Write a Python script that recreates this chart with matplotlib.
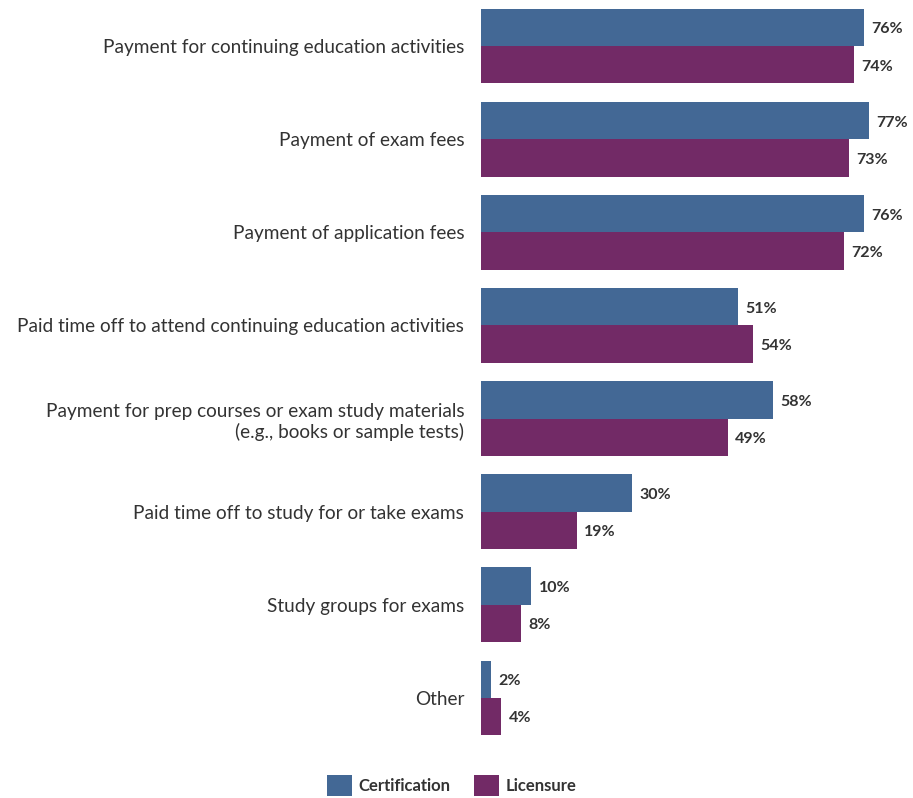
import matplotlib.pyplot as plt
from matplotlib.patches import Patch

plt.rcParams['font.family'] = ['Lato', 'DejaVu Sans']

categories = [
    "Payment for continuing education activities",
    "Payment of exam fees",
    "Payment of application fees",
    "Paid time off to attend continuing education activities",
    "Payment for prep courses or exam study materials\n(e.g., books or sample tests)",
    "Paid time off to study for or take exams",
    "Study groups for exams",
    "Other",
]
certification = [76, 77, 76, 51, 58, 30, 10, 2]
licensure = [74, 73, 72, 54, 49, 19, 8, 4]

blue = "#436895"
purple = "#722a66"
text_color = "#333333"

fig = plt.figure(figsize=(9.13, 7.98), dpi=100)
ax = fig.add_axes([481 / 913, 1 - 735 / 798, 428 / 913, 726 / 798])

pos = list(range(len(categories)))
h = 0.4
ax.barh([p - h / 2 for p in pos], certification, height=h, color=blue)
ax.barh([p + h / 2 for p in pos], licensure, height=h, color=purple)

for p, c, l in zip(pos, certification, licensure):
    ax.text(c + 1.5, p - h / 2 + 0.02, f"{c}%", va="center", ha="left",
            fontsize=11.5, fontweight="bold", color=text_color)
    ax.text(l + 1.5, p + h / 2 + 0.02, f"{l}%", va="center", ha="left",
            fontsize=11.5, fontweight="bold", color=text_color)

ax.set_yticks(pos)
ax.set_yticklabels(categories, fontsize=13.7, color=text_color, ha="right",
                   linespacing=1.25)
ax.tick_params(axis="y", length=0, pad=12)
ax.set_xticks([])
ax.set_xlim(0, 85)
ax.set_ylim(7.4, -0.4)
for s in ax.spines.values():
    s.set_visible(False)

handles = [Patch(facecolor=blue, label="Certification"),
           Patch(facecolor=purple, label="Licensure")]
fig.legend(handles=handles, loc="lower center", bbox_to_anchor=(0.495, -0.016),
           ncol=2, frameon=False, handlelength=1.5, handleheight=1.5,
           columnspacing=1.4, handletextpad=0.4,
           prop={"size": 12, "weight": "bold"}, labelcolor=text_color)

fig.savefig("out.png", dpi=100)
